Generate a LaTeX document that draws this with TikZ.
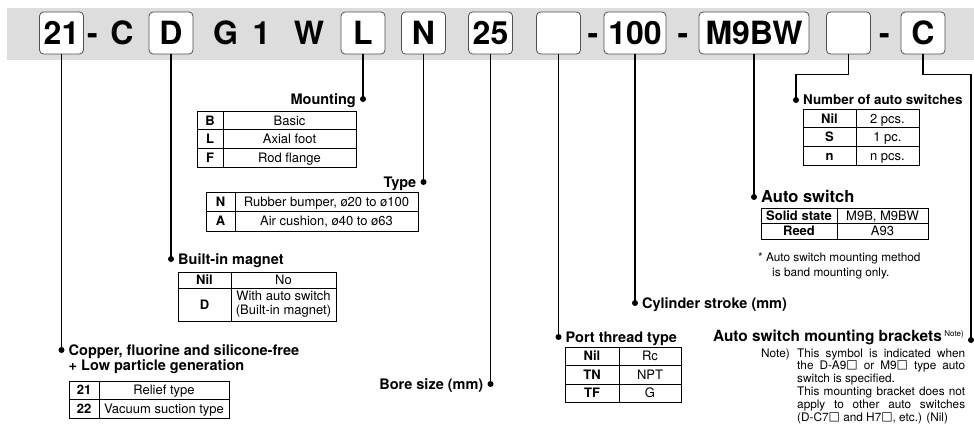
\documentclass[tikz,border=0pt]{standalone}
\usepackage{fontspec}
\setmainfont{TeX Gyre Heros}
\newfontfamily\symfont{DejaVu Sans}
\usetikzlibrary{positioning}
\definecolor{bandgray}{RGB}{221,221,221}
\definecolor{keyedge}{RGB}{80,80,80}
\newcommand\keyfont{\fontsize{32}{32}\selectfont\bfseries}
\newcommand\labfont{\fontsize{14.5}{16}\selectfont\bfseries}
\newcommand\tabfont{\fontsize{13}{14}\selectfont}
\newcommand\notefont{\fontsize{11.8}{12.9}\selectfont}
\newcommand\boxsym{\raisebox{1.2pt}{\symfont\fontsize{12}{12}\selectfont □}}

\begin{document}
\begin{tikzpicture}[
    x=1pt, y=-1pt,
    keybox/.style={draw=keyedge, line width=0.8pt, rounded corners=4pt, fill=white,
                   minimum width=44pt, minimum height=42pt, inner sep=0pt, font=\keyfont,
                   text height=23pt, text depth=0pt},
    keytxt/.style={inner sep=0pt, font=\keyfont, text height=23pt, text depth=0pt},
    lead/.style={line width=1.2pt},
    lbl/.style={font=\labfont, inner sep=0pt, text height=10.4pt, text depth=0pt},
    lblbig/.style={lbl, font=\fontsize{16.5}{18}\selectfont\bfseries, text height=11.9pt},
    lblsmall/.style={lbl, font=\fontsize{13.4}{15}\selectfont\bfseries, text height=9.6pt},
    cell/.style={draw=black, line width=0.7pt, inner sep=0pt, outer sep=0pt, anchor=north west,
                 text height=9.4pt, text depth=0pt},
    kcell/.style={cell, font=\tabfont\bfseries},
    vcell/.style={cell, font=\tabfont},
    note/.style={font=\notefont, inner sep=0pt, text height=8.5pt, text depth=0pt}
]
\useasboundingbox (0,0) rectangle (974,434);
\fill[bandgray] (7,8) rectangle (974,60);

% Model code row
\node[keybox] (k21) at (61.5,33) {21};
\node[keytxt] (hy1) at (92.5,33) {-};
\node[keytxt] (cC) at (122,33) {C};
\node[keybox] (kD) at (171,33) {D};
\node[keytxt] (cG) at (225.5,33) {G};
\node[keytxt] (c1) at (261.5,33) {1};
\node[keytxt] (cW) at (309,33) {W};
\node[keybox] (kL) at (363,33) {L};
\node[keybox] (kN) at (423.5,33) {N};
\node[keybox] (k25) at (490.5,33) {25};
\node[keybox] (kPort) at (558.5,33) {};
\node[keytxt] (hy2) at (593,33) {-};
\node[keybox, minimum width=62pt] (k100) at (635,33) {100};
\node[keytxt] (hy3) at (683,33) {-};
\node[keybox, minimum width=110pt] (kSw) at (754,33) {M9BW};
\node[keybox] (kNum) at (848.5,33) {};
\node[keytxt] (hy4) at (884.5,33) {-};
\node[keybox] (kC) at (923,33) {C};

% Leader ends
\coordinate (dCopper) at (61.5,350);
\coordinate (dMag) at (171,259);
\coordinate (dMount) at (363,99);
\coordinate (dType) at (423.5,182);
\coordinate (dBore) at (490.5,384);
\coordinate (dPort) at (558.5,337);
\coordinate (dStroke) at (635,303);
\coordinate (dSw) at (754,197);
\coordinate (dNum) at (796,100);
\coordinate (dBrk) at (971,340);

\foreach \k/\d in {k21/dCopper, kD/dMag, kL/dMount, kN/dType, k25/dBore,
                   kPort/dPort, k100/dStroke, kSw/dSw}
  \draw[lead] (\k.south) -- (\d);
\draw[lead] (kNum.south) -- ++(0,20) -| (dNum);
\draw[lead] (kC.south) -- ++(0,20) -| (dBrk);
\foreach \d in {dCopper, dMag, dMount, dType, dBore, dPort, dStroke, dSw, dNum, dBrk}
  \fill (\d) circle (3pt);

% Labels
\node[lbl, right=7pt of dCopper] (tCopper) {Copper, fluorine and silicone-free};
\node[lbl, below=4.6pt of tCopper.south west, anchor=north west] (tCopper2) {+ Low particle generation};
\node[lbl, right=7pt of dMag] (tMag) {Built-in magnet};
\node[lbl, left=7pt of dMount] (tMount) {Mounting};
\node[lbl, left=7pt of dType] (tType) {Type};
\node[lbl, left=7pt of dBore] (tBore) {Bore size (mm)};
\node[lbl, right=7pt of dPort] (tPort) {Port thread type};
\node[lbl, right=7pt of dStroke] (tStroke) {Cylinder stroke (mm)};
\node[lblbig, right=7pt of dSw] (tSw) {Auto switch};
\node[lblsmall, right=7pt of dNum] (tNum) {Number of auto switches};
\node[lbl, font=\fontsize{15.4}{17}\selectfont\bfseries, text height=11pt, left=7pt of dBrk, yshift=4pt] (tBrk)
  {Auto switch mounting brackets\,\raisebox{5pt}{\fontsize{8}{8}\selectfont\mdseries Note)}};

% Tables
\foreach \k/\v [count=\i from 0] in {B/Basic, L/Axial foot, F/Rod flange} {
  \node[kcell, minimum width=26pt, minimum height=18.7pt] (mnt-k\i) at (197,{111+18.7*\i}) {\k};
  \node[vcell, minimum width=133pt, minimum height=18.7pt, right=0pt of mnt-k\i] (mnt-v\i) {\v};
}
\foreach \k/\v [count=\i from 0] in {N/{Rubber bumper, ø20 to ø100}, A/{Air cushion, ø40 to ø63}} {
  \node[kcell, minimum width=29pt, minimum height=19.5pt] (typ-k\i) at (206,{192+19.5*\i}) {\k};
  \node[vcell, minimum width=183pt, minimum height=19.5pt, right=0pt of typ-k\i] (typ-v\i) {\v};
}
\node[kcell, minimum width=53pt, minimum height=16pt] (mag-k0) at (178,272) {Nil};
\node[vcell, minimum width=105pt, minimum height=16pt, right=0pt of mag-k0] (mag-v0) {No};
\node[kcell, minimum width=53pt, minimum height=33pt] (mag-k1) at (178,288) {D};
\node[vcell, minimum width=105pt, minimum height=33pt, right=0pt of mag-k1,
      align=center, text height={}, text depth={}] (mag-v1) {With auto switch\\(Built-in magnet)};
\foreach \k/\v [count=\i from 0] in {21/Relief type, 22/Vacuum suction type} {
  \node[kcell, minimum width=30pt, minimum height=18.5pt] (cu-k\i) at (69,{381+18.5*\i}) {\k};
  \node[vcell, minimum width=130pt, minimum height=18.5pt, right=0pt of cu-k\i] (cu-v\i) {\v};
}
\foreach \k/\v [count=\i from 0] in {Nil/Rc, TN/NPT, TF/G} {
  \node[kcell, minimum width=54pt, minimum height=18.5pt] (prt-k\i) at (565,{347+18.5*\i}) {\k};
  \node[vcell, minimum width=62pt, minimum height=18.5pt, right=0pt of prt-k\i] (prt-v\i) {\v};
}
\foreach \k/\v [count=\i from 0] in {Nil/2 pcs., S/1 pc., n/n pcs.} {
  \node[kcell, minimum width=53pt, minimum height=18.7pt] (num-k\i) at (803,{109+18.7*\i}) {\k};
  \node[vcell, minimum width=63pt, minimum height=18.7pt, right=0pt of num-k\i] (num-v\i) {\v};
}
\foreach \k/\v [count=\i from 0] in {Solid state/{M9B, M9BW}, Reed/A93} {
  \node[kcell, minimum width=76pt, minimum height=15.5pt] (sw-k\i) at (761,{208+15.5*\i}) {\k};
  \node[vcell, minimum width=91pt, minimum height=15.5pt, right=0pt of sw-k\i] (sw-v\i) {\v};
}

% Notes
\node[note, anchor=west] (swNote1) at (758,257) {* Auto switch mounting method};
\node[note, anchor=west] (swNote2) at (772,272) {is band mounting only.};
\node[font=\notefont, inner sep=0pt, anchor=base west] (brkHead) at (761,357) {Note)};
\node[font=\notefont, inner sep=0pt, anchor=base west] (brkNote) at (797,357) {%
  \begin{tabular}[t]{@{}l@{}}
  \makebox[168pt][s]{This symbol is indicated when}\\
  \makebox[168pt][s]{the D-A9\boxsym{} or M9\boxsym{} type auto}\\
  switch is specified.\\
  \makebox[168pt][s]{This mounting bracket does not}\\
  \makebox[168pt][s]{apply to other auto switches}\\
  (D-C7\boxsym{} and H7\boxsym{}, etc.) (Nil)
  \end{tabular}};
\end{tikzpicture}
\end{document}
